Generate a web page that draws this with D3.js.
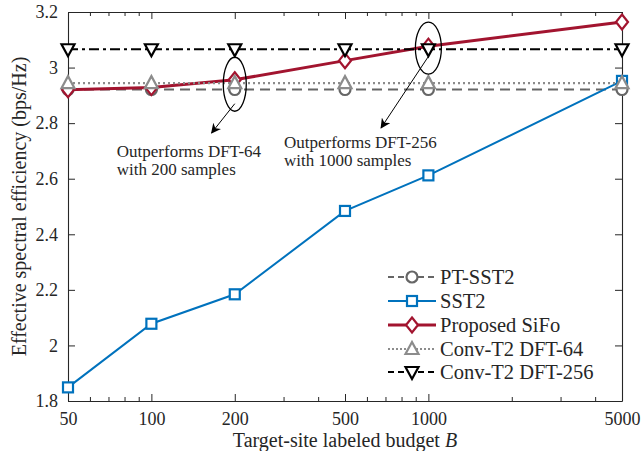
<!DOCTYPE html>
<html>
<head>
<meta charset="utf-8">
<script src="https://cdn.jsdelivr.net/npm/d3@7"></script>
<style>
  body { margin: 0; background: #fff; }
  text { font-family: "Liberation Serif", "DejaVu Serif", serif; fill: #262626; }
</style>
</head>
<body>
<div id="chart"></div>
<script>
// budgets on the x axis (log)
var budgets = [50, 100, 200, 500, 1000, 5000];
var minorTicks = [60, 70, 80, 90, 300, 400, 600, 700, 800, 900, 2000, 3000, 4000];
var yTicks = [1.8, 2, 2.2, 2.4, 2.6, 2.8, 3, 3.2];
var yTickLabels = ["1.8", "2", "2.2", "2.4", "2.6", "2.8", "3", "3.2"];

// series values
var ptSST2 = [2.921, 2.921, 2.921, 2.921, 2.921, 2.921];
var sst2 = [1.849, 2.078, 2.184, 2.484, 2.612, 2.952];
var sifo = [2.920, 2.928, 2.956, 3.025, 3.077, 3.164];
var dft64 = [2.944, 2.944, 2.944, 2.944, 2.944, 2.944];
var dft256 = [3.066, 3.066, 3.066, 3.066, 3.066, 3.066];

var seriesNames = ["PT-SST2", "SST2", "Proposed SiFo", "Conv-T2 DFT-64", "Conv-T2 DFT-256"];

var W = 642, H = 451;
var plotL = 68, plotR = 622, plotT = 12, plotB = 401;

var svg = d3.select("#chart").append("svg")
    .attr("width", W)
    .attr("height", H);

var x = d3.scaleLog().domain([50, 5000]).range([plotL, plotR]);
var y = d3.scaleLinear().domain([1.8, 3.2]).range([plotB, plotT]);

var axisColor = "#262626";

// box + ticks
function styleAxis(g) {
  g.selectAll("path").attr("stroke", axisColor).attr("stroke-width", 1.1);
  g.selectAll("line").attr("stroke", axisColor).attr("stroke-width", 1);
}

var fmt = function (d) { return String(d); };

svg.append("g")
    .attr("transform", "translate(0," + plotB + ")")
    .call(d3.axisBottom(x).tickValues(budgets).tickFormat(fmt).tickSizeInner(-7).tickSizeOuter(0).tickPadding(11))
    .call(styleAxis)
    .call(function (g) { g.selectAll("text").attr("font-size", "18px").attr("font-family", "Liberation Serif").attr("fill", axisColor); });

svg.append("g")
    .attr("transform", "translate(0," + plotB + ")")
    .call(d3.axisBottom(x).tickValues(minorTicks).tickFormat("").tickSizeInner(-4).tickSizeOuter(0))
    .call(styleAxis)
    .call(function (g) { g.select("path").remove(); });

svg.append("g")
    .attr("transform", "translate(0," + plotT + ")")
    .call(d3.axisTop(x).tickValues(budgets).tickFormat("").tickSizeInner(-7).tickSizeOuter(0))
    .call(styleAxis);

svg.append("g")
    .attr("transform", "translate(0," + plotT + ")")
    .call(d3.axisTop(x).tickValues(minorTicks).tickFormat("").tickSizeInner(-4).tickSizeOuter(0))
    .call(styleAxis)
    .call(function (g) { g.select("path").remove(); });

svg.append("g")
    .attr("transform", "translate(" + plotL + ",0)")
    .call(d3.axisLeft(y).tickValues(yTicks).tickFormat(function (d, i) { return yTickLabels[i]; }).tickSizeInner(-7).tickSizeOuter(0).tickPadding(10))
    .call(styleAxis)
    .call(function (g) { g.selectAll("text").attr("font-size", "18px").attr("font-family", "Liberation Serif").attr("fill", axisColor); });

svg.append("g")
    .attr("transform", "translate(" + plotR + ",0)")
    .call(d3.axisRight(y).tickValues(yTicks).tickFormat("").tickSizeInner(-7).tickSizeOuter(0))
    .call(styleAxis);

// axis titles
svg.append("text")
    .attr("x", (plotL + plotR) / 2)
    .attr("y", 447)
    .attr("text-anchor", "middle")
    .attr("font-size", "20px")
    .html('Target-site labeled budget <tspan font-style="italic">B</tspan>');

svg.append("text")
    .attr("transform", "translate(26," + ((plotT + plotB) / 2) + ") rotate(-90)")
    .attr("text-anchor", "middle")
    .attr("font-size", "20px")
    .text("Effective spectral efficiency (bps/Hz)");

// series
var series = [
  { name: seriesNames[0], values: ptSST2, color: "#666666", width: 2.2, dash: "10,6", marker: "circle" },
  { name: seriesNames[1], values: sst2, color: "#0072BD", width: 2, dash: null, marker: "square" },
  { name: seriesNames[2], values: sifo, color: "#A2142F", width: 3, dash: null, marker: "diamond" },
  { name: seriesNames[3], values: dft64, color: "#8c8c8c", width: 2.2, dash: "2,3", marker: "triUp" },
  { name: seriesNames[4], values: dft256, color: "#000000", width: 2, dash: "10,4,3,4", marker: "triDown" }
];

var line = d3.line()
    .x(function (d) { return x(d[0]); })
    .y(function (d) { return y(d[1]); });

function drawMarker(g, type, cx, cy, color) {
  var m;
  if (type === "circle") {
    m = g.append("circle").attr("cx", cx).attr("cy", cy).attr("r", 5.5);
  } else if (type === "square") {
    m = g.append("rect").attr("x", cx - 5).attr("y", cy - 5).attr("width", 10).attr("height", 10);
  } else if (type === "diamond") {
    m = g.append("path").attr("d", "M" + cx + "," + (cy - 7.5) + "L" + (cx + 6) + "," + cy + "L" + cx + "," + (cy + 7.5) + "L" + (cx - 6) + "," + cy + "Z");
  } else if (type === "triUp") {
    m = g.append("path").attr("d", "M" + cx + "," + (cy - 7) + "L" + (cx + 6.5) + "," + (cy + 5) + "L" + (cx - 6.5) + "," + (cy + 5) + "Z");
  } else {
    m = g.append("path").attr("d", "M" + cx + "," + (cy + 7) + "L" + (cx + 6.5) + "," + (cy - 5) + "L" + (cx - 6.5) + "," + (cy - 5) + "Z");
  }
  m.attr("fill", "#fff").attr("stroke", color).attr("stroke-width", 2.2);
}

series.forEach(function (s) {
  var pts = budgets.map(function (b, i) { return [b, s.values[i]]; });
  var g = svg.append("g");
  g.append("path")
      .attr("d", line(pts))
      .attr("fill", "none")
      .attr("stroke", s.color)
      .attr("stroke-width", s.width)
      .attr("stroke-dasharray", s.dash);
  pts.forEach(function (p) {
    drawMarker(g, s.marker, x(p[0]), y(p[1]), s.color);
  });
});

// annotations
svg.append("defs").append("marker")
    .attr("id", "arrow")
    .attr("viewBox", "0 0 10 10")
    .attr("refX", 9).attr("refY", 5)
    .attr("markerWidth", 10).attr("markerHeight", 10)
    .attr("markerUnits", "userSpaceOnUse")
    .attr("orient", "auto")
    .append("path")
    .attr("d", "M0,0 L10,5 L0,10 L3,5 Z")
    .attr("fill", "#000");

var notes = [
  { at: 200, cy: 2.94, rx: 11.5, ry: 27, from: [200, 2.87], to: [165, 2.765],
    textX: 75, textY: [2.679, 2.614], lines: ["Outperforms DFT-64", "with 200 samples"] },
  { at: 1000, cy: 3.07, rx: 13, ry: 26, from: [1000, 3.04], to: [675, 2.783],
    textX: 301, textY: [2.711, 2.645], lines: ["Outperforms DFT-256", "with 1000 samples"] }
];

notes.forEach(function (n) {
  svg.append("ellipse")
      .attr("cx", x(n.at)).attr("cy", y(n.cy))
      .attr("rx", n.rx).attr("ry", n.ry)
      .attr("fill", "none").attr("stroke", "#000").attr("stroke-width", 1.3);
  svg.append("line")
      .attr("x1", x(n.from[0])).attr("y1", y(n.from[1]))
      .attr("x2", x(n.to[0])).attr("y2", y(n.to[1]))
      .attr("stroke", "#000").attr("stroke-width", 1)
      .attr("marker-end", "url(#arrow)");
  n.lines.forEach(function (t, i) {
    svg.append("text")
        .attr("x", x(n.textX)).attr("y", y(n.textY[i]))
        .attr("font-size", "17px")
        .attr("fill", "#000")
        .text(t);
  });
});

// legend
var legendY = [277, 301, 325, 349, 372];
var lg = svg.append("g");
series.forEach(function (s, i) {
  var ly = legendY[i];
  lg.append("line")
      .attr("x1", 388).attr("x2", 436)
      .attr("y1", ly).attr("y2", ly)
      .attr("stroke", s.color)
      .attr("stroke-width", s.width)
      .attr("stroke-dasharray", s.dash ? (s.dash === "2,3" ? "2,2" : "6,4") : null);
  drawMarker(lg, s.marker, 412, ly, s.color);
  lg.append("text")
      .attr("x", 440).attr("y", ly)
      .attr("dy", "0.35em")
      .attr("font-size", "20.5px")
      .attr("fill", "#000")
      .text(s.name);
});
</script>
</body>
</html>
